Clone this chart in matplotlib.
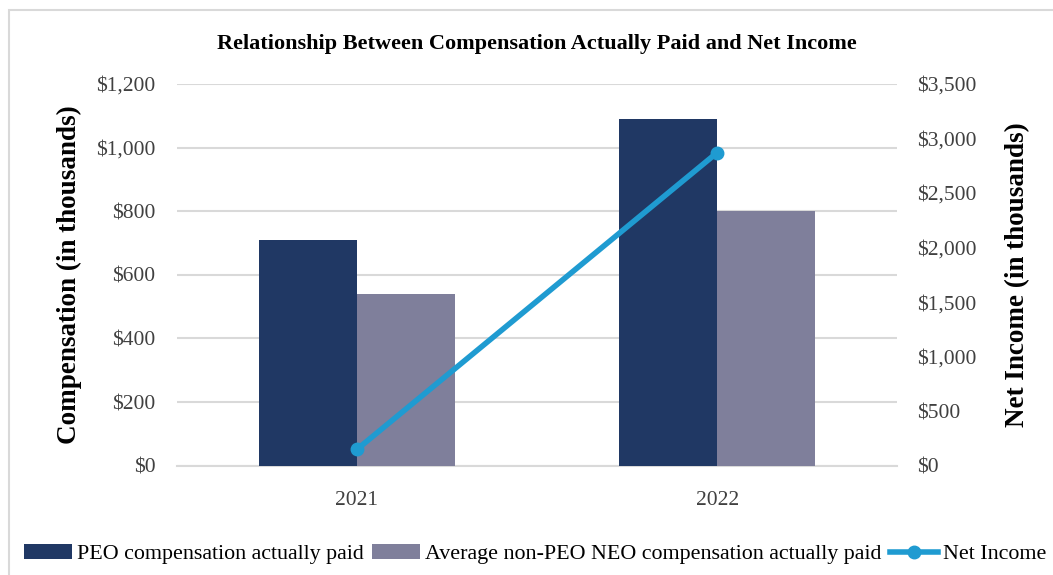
import numpy as np
import matplotlib.pyplot as plt
from matplotlib.patches import Rectangle
from matplotlib.ticker import FuncFormatter

plt.rcParams['font.family'] = ['Liberation Serif', 'DejaVu Serif']

# data (thousands)
years = ['2021', '2022']
peo_cap = [710, 1090]
neo_cap = [540, 800]
net_income = [150, 2870]

navy = '#203864'
slate = '#7f7f9b'
blue = '#1f9bd1'

fig = plt.figure(figsize=(10.53, 5.75), dpi=100)
ax = fig.add_axes([0.168, 0.19, 0.684, 0.664])
ax2 = ax.twinx()

x = np.arange(len(years))
w = 0.273
ax.bar(x - w / 2, peo_cap, w, color=navy, label='PEO compensation actually paid', zorder=3)
ax.bar(x + w / 2, neo_cap, w, color=slate, label='Average non-PEO NEO compensation actually paid', zorder=3)
ax2.plot(x, net_income, color=blue, lw=4, marker='o', ms=9, label='Net Income', zorder=4)

ax.set_xlim(-0.5, 1.5)
ax.set_ylim(0, 1200)
ax.set_yticks(range(0, 1201, 200))
ax2.set_ylim(0, 3500)
ax2.set_yticks(range(0, 3501, 500))
ax.yaxis.set_major_formatter(FuncFormatter(lambda v, p: f'${v:,.0f}'))
ax2.yaxis.set_major_formatter(FuncFormatter(lambda v, p: f'${v:,.0f}'))
ax.set_xticks(x)
ax.set_xticklabels(years)

ax.grid(axis='y', color='#d9d9d9', lw=1.5, zorder=0)
for a in (ax, ax2):
    for s in a.spines.values():
        s.set_visible(False)
    a.tick_params(length=0, labelsize=15.5, colors='#404040')
ax.tick_params(axis='y', pad=15.5)
ax2.tick_params(axis='y', pad=14)
ax.tick_params(axis='x', pad=18)
ax.spines['bottom'].set_visible(True)
ax.spines['bottom'].set_color('#d9d9d9')
ax.spines['bottom'].set_linewidth(1.5)

ax.set_ylabel('Compensation (in thousands)', fontsize=19.5, fontweight='bold', labelpad=10)
ax2.set_ylabel('Net Income (in thousands)', fontsize=19.5, fontweight='bold', labelpad=21)
ax.set_title('Relationship Between Compensation Actually Paid and Net Income',
             fontsize=16, fontweight='bold', pad=25)

h1, l1 = ax.get_legend_handles_labels()
h2, l2 = ax2.get_legend_handles_labels()
fig.legend(h1 + h2, l1 + l2, loc='center', bbox_to_anchor=(0.508, 0.036), ncol=3,
           frameon=False, fontsize=15.8, handlelength=2.2, handletextpad=0.2, columnspacing=0.4)

fig.patches.append(Rectangle((0.009, -0.01), 1.0, 0.993, transform=fig.transFigure,
                             fill=False, edgecolor='#d9d9d9', lw=1.5))

fig.savefig('out.png', dpi=100)
